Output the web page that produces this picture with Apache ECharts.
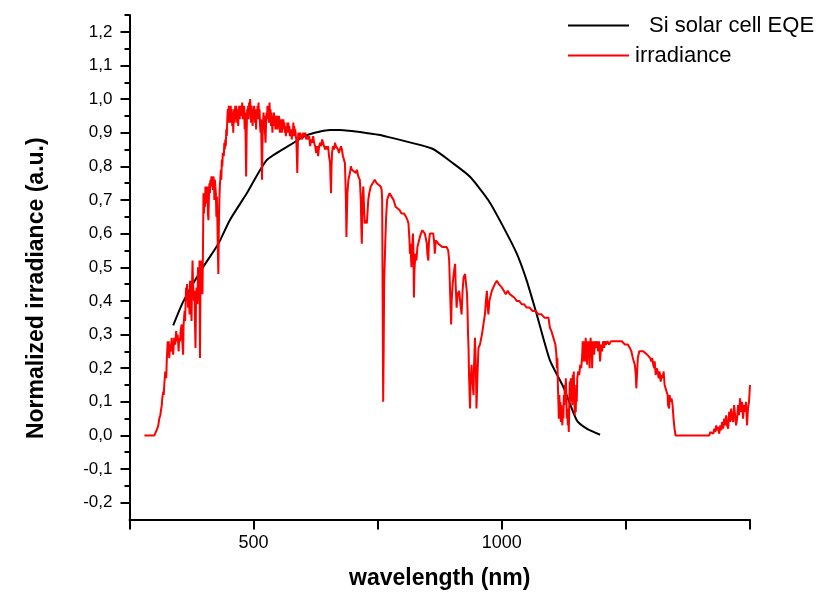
<!DOCTYPE html>
<html>
<head>
<meta charset="utf-8">
<script src="https://cdn.jsdelivr.net/npm/echarts@6/dist/echarts.min.js"></script>
<style>
  html, body { margin: 0; padding: 0; background: #fff; }
  #chart { width: 837px; height: 599px; }
</style>
</head>
<body>
<div id="chart"></div>
<script>
// Si EQE curve [nm, normalized]
const eqe = [[338, 0.327], [358, 0.397], [392, 0.486], [429, 0.570], [452, 0.640], [486, 0.719], [526, 0.818],
  [573, 0.863], [607, 0.893], [654, 0.908], [674, 0.908], [734, 0.898], [755, 0.893], [859, 0.853], [902, 0.809],
  [936, 0.769], [973, 0.699], [1003, 0.620], [1030, 0.541], [1050, 0.461], [1070, 0.362], [1097, 0.223],
  [1124, 0.144], [1151, 0.045], [1171, 0.020], [1198, 0.002]];

// solar irradiance spectrum [nm, normalized]
const irradiance = [
  [280, 0], [300, 0], [303, 0.005], [306, 0.02], [308, 0.03], [310, 0.05], [312, 0.06], [314, 0.08], [315, 0.09], [316, 0.11], [318, 0.13], [319, 0.12],
  [320, 0.15], [322, 0.19], [324, 0.17], [325, 0.22], [327, 0.28], [328, 0.25], [329, 0.28], [330, 0.23], [332, 0.27], [333, 0.25], [335, 0.29], [336, 0.26],
  [338, 0.24], [340, 0.29], [342, 0.27], [344, 0.31], [345, 0.28], [347, 0.30], [349, 0.25], [350, 0.29], [352, 0.28], [353, 0.31], [355, 0.33], [356, 0.29],
  [358, 0.24], [359, 0.33], [361, 0.37], [362, 0.34], [364, 0.44], [365, 0.40], [366, 0.45], [368, 0.38], [369, 0.43], [371, 0.36], [372, 0.46], [374, 0.41],
  [375, 0.34], [376, 0.45], [377, 0.52], [378, 0.45], [380, 0.40], [381, 0.43], [382, 0.33], [383, 0.26], [384, 0.40], [385, 0.44], [387, 0.39], [388, 0.50],
  [389, 0.45], [390, 0.40], [391, 0.52], [392, 0.23], [393, 0.45], [394, 0.52], [395, 0.46], [396, 0.49], [397, 0.42], [398, 0.55], [399, 0.72], [400, 0.66],
  [401, 0.70], [402, 0.68], [403, 0.74], [404, 0.71], [405, 0.73], [406, 0.69], [407, 0.74], [408, 0.66], [409, 0.64], [410, 0.71], [411, 0.75], [412, 0.72],
  [413, 0.76], [414, 0.74], [415, 0.77], [416, 0.75], [417, 0.77], [418, 0.73], [419, 0.77], [420, 0.76], [421, 0.70], [422, 0.76], [424, 0.72], [425, 0.65],
  [426, 0.71], [427, 0.64], [428, 0.55], [429, 0.48], [430, 0.62], [431, 0.70], [432, 0.74], [434, 0.79], [435, 0.76], [436, 0.82], [437, 0.80], [438, 0.84],
  [440, 0.83], [441, 0.87], [442, 0.85], [443, 0.88], [444, 0.86], [445, 0.91], [446, 0.89], [447, 0.94], [448, 0.97], [449, 0.93], [450, 0.98], [451, 0.95],
  [452, 0.97], [453, 0.93], [454, 0.98], [455, 0.94], [456, 0.97], [457, 0.92], [458, 0.96], [459, 0.90], [460, 0.95], [461, 0.97], [462, 0.93], [463, 0.98],
  [464, 0.94], [465, 0.98], [466, 0.95], [467, 0.93], [468, 0.97], [469, 0.92], [470, 0.96], [471, 0.98], [472, 0.94], [473, 0.97], [474, 0.95], [475, 0.98],
  [476, 0.96], [477, 0.99], [478, 0.94], [479, 0.98], [480, 0.95], [481, 0.98], [482, 0.91], [483, 0.96], [484, 0.88], [485, 0.77], [486, 0.90], [487, 0.97],
  [488, 0.95], [489, 0.98], [490, 0.94], [491, 0.99], [492, 0.96], [493, 1.00], [494, 0.97], [495, 0.93], [496, 0.98], [497, 0.95], [498, 0.92], [499, 0.97],
  [500, 0.94], [501, 0.98], [502, 0.95], [503, 0.93], [504, 0.97], [505, 0.91], [506, 0.96], [507, 0.94], [508, 0.98], [509, 0.95], [510, 0.99], [511, 0.94],
  [512, 0.97], [513, 0.92], [514, 0.90], [515, 0.94], [516, 0.85], [517, 0.76], [518, 0.88], [519, 0.93], [520, 0.96], [521, 0.92], [522, 0.95], [523, 0.90],
  [524, 0.87], [525, 0.92], [526, 0.96], [527, 0.94], [528, 0.98], [529, 0.95], [530, 0.97], [531, 0.93], [532, 0.99], [533, 0.95], [534, 0.97], [535, 0.92],
  [536, 0.96], [537, 0.93], [538, 0.90], [539, 0.95], [540, 0.92], [541, 0.96], [542, 0.93], [543, 0.95], [544, 0.91], [545, 0.94], [546, 0.92], [547, 0.95],
  [548, 0.91], [549, 0.94], [550, 0.92], [551, 0.95], [552, 0.93], [553, 0.90], [554, 0.94], [555, 0.91], [556, 0.93], [557, 0.90], [558, 0.94], [559, 0.92],
  [560, 0.94], [561, 0.91], [562, 0.93], [563, 0.90], [564, 0.92], [565, 0.89], [566, 0.92], [567, 0.90], [568, 0.93], [569, 0.91], [570, 0.93], [571, 0.90],
  [572, 0.92], [573, 0.89], [574, 0.91], [575, 0.89], [576, 0.90], [577, 0.88], [578, 0.91], [579, 0.89], [580, 0.93], [581, 0.90], [582, 0.92], [583, 0.89],
  [584, 0.91], [585, 0.89], [586, 0.88], [587, 0.84], [588, 0.78], [589, 0.86], [590, 0.90], [592, 0.88], [594, 0.90], [596, 0.89], [598, 0.88], [600, 0.90],
  [602, 0.89], [604, 0.90], [606, 0.88], [608, 0.89], [610, 0.88], [612, 0.89], [614, 0.86], [616, 0.88], [618, 0.87], [620, 0.89], [622, 0.87], [624, 0.86],
  [626, 0.84], [628, 0.86], [630, 0.83], [632, 0.86], [634, 0.87], [636, 0.86], [638, 0.88], [640, 0.87], [642, 0.86], [644, 0.85], [646, 0.86], [648, 0.85],
  [650, 0.86], [652, 0.83], [654, 0.81], [655, 0.76], [656, 0.72], [657, 0.80], [658, 0.84], [660, 0.86], [662, 0.85], [664, 0.87], [666, 0.86], [668, 0.86],
  [670, 0.85], [672, 0.84], [674, 0.85], [676, 0.86], [678, 0.85], [680, 0.83], [682, 0.82], [684, 0.81], [686, 0.70], [687, 0.59], [688, 0.66], [689, 0.72],
  [691, 0.76], [694, 0.78], [696, 0.80], [698, 0.79], [702, 0.79], [706, 0.78], [708, 0.79], [711, 0.77], [714, 0.76], [716, 0.70], [717, 0.62], [718, 0.57],
  [719, 0.66], [720, 0.72], [721, 0.74], [722, 0.70], [723, 0.66], [724, 0.63], [726, 0.64], [728, 0.63], [729, 0.65], [731, 0.70], [733, 0.72], [736, 0.74],
  [740, 0.75], [744, 0.76], [748, 0.75], [752, 0.75], [756, 0.74], [758, 0.73], [759, 0.70], [760, 0.40], [761, 0.10], [762, 0.25], [763, 0.45], [765, 0.56],
  [767, 0.65], [769, 0.70], [771, 0.71], [774, 0.72], [778, 0.71], [782, 0.70], [786, 0.68], [790, 0.68], [794, 0.67], [798, 0.66], [803, 0.66], [807, 0.65],
  [810, 0.64], [812, 0.63], [814, 0.58], [815, 0.54], [816, 0.57], [818, 0.50], [819, 0.55], [821, 0.60], [822, 0.55], [823, 0.41], [824, 0.49], [826, 0.54],
  [828, 0.52], [830, 0.56], [832, 0.56], [835, 0.59], [837, 0.60], [840, 0.61], [842, 0.61], [845, 0.60], [847, 0.60], [849, 0.57], [850, 0.54], [852, 0.52],
  [853, 0.57], [855, 0.60], [858, 0.60], [862, 0.60], [864, 0.57], [865, 0.54], [867, 0.58], [869, 0.58], [872, 0.57], [876, 0.57], [880, 0.56], [884, 0.56],
  [889, 0.56], [892, 0.55], [894, 0.52], [896, 0.42], [898, 0.33], [899, 0.40], [901, 0.45], [903, 0.48], [906, 0.51], [907, 0.45], [909, 0.38], [911, 0.42],
  [914, 0.43], [916, 0.40], [919, 0.36], [921, 0.43], [923, 0.47], [926, 0.48], [928, 0.48], [930, 0.42], [931, 0.37], [932, 0.30], [933, 0.26], [934, 0.18],
  [936, 0.08], [937, 0.15], [939, 0.21], [941, 0.16], [943, 0.12], [944, 0.20], [946, 0.29], [948, 0.18], [949, 0.08], [951, 0.18], [953, 0.26], [956, 0.27],
  [960, 0.30], [963, 0.33], [966, 0.36], [968, 0.40], [970, 0.43], [971, 0.39], [973, 0.36], [975, 0.40], [977, 0.40], [980, 0.43], [983, 0.44], [986, 0.45],
  [990, 0.46], [994, 0.45], [997, 0.45], [1000, 0.44], [1004, 0.43], [1008, 0.42], [1012, 0.43], [1016, 0.42], [1020, 0.42], [1025, 0.41], [1030, 0.40],
  [1035, 0.40], [1040, 0.39], [1045, 0.39], [1050, 0.38], [1056, 0.38], [1062, 0.37], [1068, 0.37], [1074, 0.36], [1080, 0.36], [1086, 0.35], [1090, 0.35],
  [1094, 0.35], [1097, 0.32], [1100, 0.31], [1102, 0.30], [1104, 0.29], [1106, 0.28], [1108, 0.27], [1110, 0.24], [1111, 0.20], [1112, 0.23], [1113, 0.15],
  [1114, 0.10], [1115, 0.05], [1116, 0.12], [1117, 0.06], [1118, 0.10], [1119, 0.04], [1120, 0.09], [1121, 0.05], [1122, 0.03], [1123, 0.08], [1124, 0.05],
  [1125, 0.12], [1126, 0.09], [1127, 0.15], [1128, 0.10], [1129, 0.17], [1130, 0.12], [1131, 0.05], [1132, 0.08], [1133, 0.03], [1134, 0.06], [1135, 0.01],
  [1136, 0.10], [1137, 0.16], [1138, 0.12], [1139, 0.17], [1140, 0.10], [1141, 0.14], [1142, 0.09], [1143, 0.18], [1144, 0.14], [1145, 0.19], [1146, 0.12],
  [1147, 0.06], [1148, 0.13], [1149, 0.07], [1150, 0.15], [1151, 0.10], [1152, 0.17], [1154, 0.19], [1156, 0.18], [1158, 0.21], [1160, 0.20], [1162, 0.24],
  [1163, 0.28], [1164, 0.22], [1165, 0.27], [1166, 0.24], [1167, 0.28], [1168, 0.22], [1169, 0.29], [1170, 0.25], [1171, 0.28], [1172, 0.21], [1173, 0.27],
  [1174, 0.23], [1175, 0.28], [1176, 0.25], [1177, 0.20], [1178, 0.27], [1179, 0.29], [1180, 0.24], [1181, 0.28], [1182, 0.20], [1183, 0.26], [1184, 0.28],
  [1186, 0.24], [1188, 0.28], [1190, 0.26], [1192, 0.28], [1194, 0.25], [1196, 0.28], [1198, 0.22], [1200, 0.27], [1202, 0.25], [1204, 0.28], [1206, 0.26],
  [1208, 0.28], [1210, 0.27], [1213, 0.28], [1216, 0.27], [1220, 0.28], [1225, 0.28], [1230, 0.28], [1236, 0.28], [1242, 0.28], [1248, 0.27], [1254, 0.27],
  [1258, 0.26], [1261, 0.25], [1264, 0.23], [1266, 0.22], [1268, 0.21], [1270, 0.18], [1271, 0.14], [1272, 0.17], [1274, 0.23], [1277, 0.25], [1281, 0.25],
  [1285, 0.25], [1289, 0.25], [1293, 0.24], [1296, 0.24], [1299, 0.23], [1301, 0.22], [1303, 0.23], [1305, 0.21], [1307, 0.20], [1308, 0.22], [1310, 0.18],
  [1312, 0.20], [1314, 0.19], [1316, 0.17], [1318, 0.19], [1320, 0.16], [1322, 0.18], [1324, 0.17], [1326, 0.19], [1328, 0.15], [1330, 0.14], [1332, 0.13],
  [1334, 0.12], [1335, 0.09], [1337, 0.08], [1338, 0.12], [1340, 0.10], [1342, 0.11], [1344, 0.09], [1346, 0.05], [1348, 0.02], [1350, 0], [1418, 0],
  [1420, 0.01], [1422, 0.005], [1424, 0.015], [1426, 0.005], [1428, 0.02], [1430, 0.01], [1432, 0.03], [1434, 0.015], [1436, 0.025], [1438, 0.005],
  [1440, 0.03], [1442, 0.015], [1444, 0.04], [1446, 0.02], [1448, 0.05], [1450, 0.03], [1452, 0.06], [1454, 0.03], [1456, 0.02], [1458, 0.07], [1460, 0.04],
  [1462, 0.08], [1464, 0.05], [1466, 0.04], [1468, 0.09], [1470, 0.06], [1472, 0.03], [1474, 0.05], [1476, 0.09], [1478, 0.06], [1480, 0.11], [1482, 0.07],
  [1484, 0.10], [1486, 0.05], [1488, 0.09], [1490, 0.07], [1492, 0.10], [1494, 0.03], [1496, 0.08], [1498, 0.10], [1500, 0.15]
];

// axis ticks
const xLabelTicks = [500, 1000];
const yMajorTicks = [-0.2, -0.1, 0, 0.1, 0.2, 0.3, 0.4, 0.5, 0.6, 0.7, 0.8, 0.9, 1.0, 1.1, 1.2];
const yMinorTicks = [-0.15, -0.05, 0.05, 0.15, 0.25, 0.35, 0.45, 0.55, 0.65, 0.75, 0.85, 0.95, 1.05, 1.15, 1.25];

const FONT = 'Liberation Sans, Arial, sans-serif';

const myChart = echarts.init(document.getElementById('chart'));
myChart.setOption({
    animation: false,
    backgroundColor: '#fff',
    grid: { left: 129.5, right: 87, top: 15, bottom: 79.5, containLabel: false, outerBoundsMode: 'none' },
    legend: [
        {
            data: ['Si solar cell EQE'],
            left: 568, top: 13.5, padding: 0,
            icon: 'rect', itemWidth: 61, itemHeight: 2,
            textStyle: { fontFamily: FONT, fontSize: 22, color: '#000', lineHeight: 24, padding: [0, 0, 0, 15] }
        },
        {
            data: ['irradiance'],
            left: 568, top: 43.5, padding: 0,
            icon: 'rect', itemWidth: 61, itemHeight: 2,
            textStyle: { fontFamily: FONT, fontSize: 22, color: '#000', lineHeight: 24, padding: [0, 0, 0, 1] }
        }
    ],
    xAxis: {
        type: 'value',
        min: 250, max: 1500, interval: 250,
        name: 'wavelength (nm)',
        nameLocation: 'middle', nameGap: 48,
        nameTextStyle: { fontFamily: FONT, fontSize: 23, fontWeight: 'bold', color: '#000' },
        axisLine: { onZero: false, lineStyle: { color: '#000', width: 2 } },
        axisTick: { length: 10, lineStyle: { color: '#000', width: 2 } },
        axisLabel: {
            customValues: xLabelTicks, margin: 15,
            fontFamily: FONT, fontSize: 18, color: '#000',
            formatter: v => String(v)
        },
        splitLine: { show: false }
    },
    yAxis: [
        {
            type: 'value',
            position: 'left',
            min: -0.25, max: 1.25,
            name: 'Normalized irradiance (a.u.)',
            nameLocation: 'middle', nameGap: 81,
            nameTextStyle: { fontFamily: FONT, fontSize: 23, fontWeight: 'bold', color: '#000', padding: [0, 42, 0, 0] },
            axisLine: { show: true, onZero: false, lineStyle: { color: '#000', width: 2 } },
            axisTick: { show: true, customValues: yMajorTicks, length: 9, lineStyle: { color: '#000', width: 2 } },
            axisLabel: {
                customValues: yMajorTicks, margin: 17,
                fontFamily: FONT, fontSize: 17, color: '#000',
                formatter: v => v.toFixed(1).replace('.', ',')
            },
            splitLine: { show: false }
        },
        {
            // minor ticks only
            type: 'value',
            position: 'left',
            offset: 0,
            min: -0.25, max: 1.25,
            axisLine: { show: false },
            axisTick: { show: true, customValues: yMinorTicks, length: 5, lineStyle: { color: '#000', width: 2 } },
            axisLabel: { show: false },
            splitLine: { show: false }
        }
    ],
    series: [
        {
            name: 'Si solar cell EQE',
            type: 'line',
            data: eqe,
            symbol: 'none',
            smooth: 0.2,
            lineStyle: { color: '#000', width: 2 },
            itemStyle: { color: '#000' }
        },
        {
            name: 'irradiance',
            type: 'line',
            data: irradiance,
            symbol: 'none',
            lineStyle: { color: '#ff0000', width: 2 },
            itemStyle: { color: '#ff0000' }
        }
    ]
});
</script>
</body>
</html>
